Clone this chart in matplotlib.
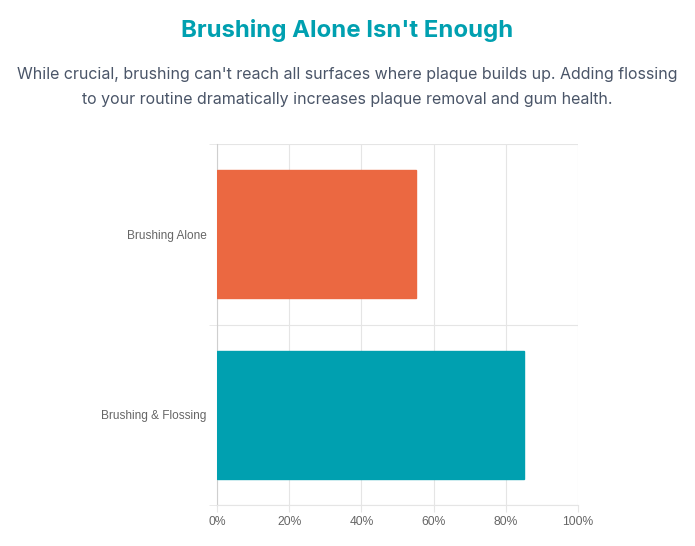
import matplotlib
matplotlib.use("Agg")
import matplotlib.pyplot as plt
from matplotlib.ticker import FixedLocator

categories = ["Brushing Alone", "Brushing & Flossing"]
values = [55, 85]
colors = ["#EB6841", "#00A0B0"]
xticks = [0, 20, 40, 60, 80, 100]
xtick_labels = ["0%", "20%", "40%", "60%", "80%", "100%"]

title = "Brushing Alone Isn't Enough"
subtitle = ("While crucial, brushing can't reach all surfaces where plaque builds up. Adding flossing\n"
            "to your routine dramatically increases plaque removal and gum health.")

fig = plt.figure(figsize=(6.95, 5.46), dpi=100)
fig.patch.set_facecolor("white")

fig.text(0.5, 1 - 30/546, title, ha="center", va="center", fontsize=17.25,
         fontweight="bold", color="#00A0B0", family=["Inter", "DejaVu Sans"])
fig.text(0.5, 1 - 87/546, subtitle, ha="center", va="center", fontsize=11.5,
         color="#4A5568", family=["Inter", "DejaVu Sans"], linespacing=1.77)

ax = fig.add_axes([217/695, 1 - 505/546, (578-217)/695, (505-144)/546])
ypos = list(range(len(categories)))
ax.barh(ypos, values, height=0.71, color=colors, edgecolor=colors, linewidth=1, zorder=3)

ax.set_xlim(0, 100)
ax.set_ylim(len(categories) - 0.5, -0.5)
ax.set_xticks(xticks)
ax.set_xticklabels(xtick_labels)
ax.set_yticks(ypos)
ax.set_yticklabels(categories)
ax.yaxis.set_minor_locator(FixedLocator([i - 0.5 for i in range(len(categories) + 1)]))

grid_c = "#E5E5E5"
ax.grid(axis="x", which="major", color=grid_c, linewidth=0.8, zorder=0)
ax.grid(axis="y", which="minor", color=grid_c, linewidth=0.8, zorder=0)
for s in ["top", "right"]:
    ax.spines[s].set_visible(False)
ax.spines["bottom"].set_color(grid_c)
ax.spines["left"].set_color("#CFCFCF")
ax.spines["bottom"].set_linewidth(0.8)
ax.spines["left"].set_linewidth(0.8)

ax.tick_params(axis="x", which="major", length=5, color=grid_c, pad=3,
               labelsize=8.7, labelcolor="#666666")
ax.tick_params(axis="y", which="major", length=0, pad=7.5,
               labelsize=8.6, labelcolor="#666666")
ax.tick_params(axis="y", which="minor", length=5.5, color=grid_c)
for lab in ax.get_xticklabels() + ax.get_yticklabels():
    lab.set_family(["Liberation Sans", "DejaVu Sans"])

fig.savefig("out.png", dpi=100, facecolor="white")
